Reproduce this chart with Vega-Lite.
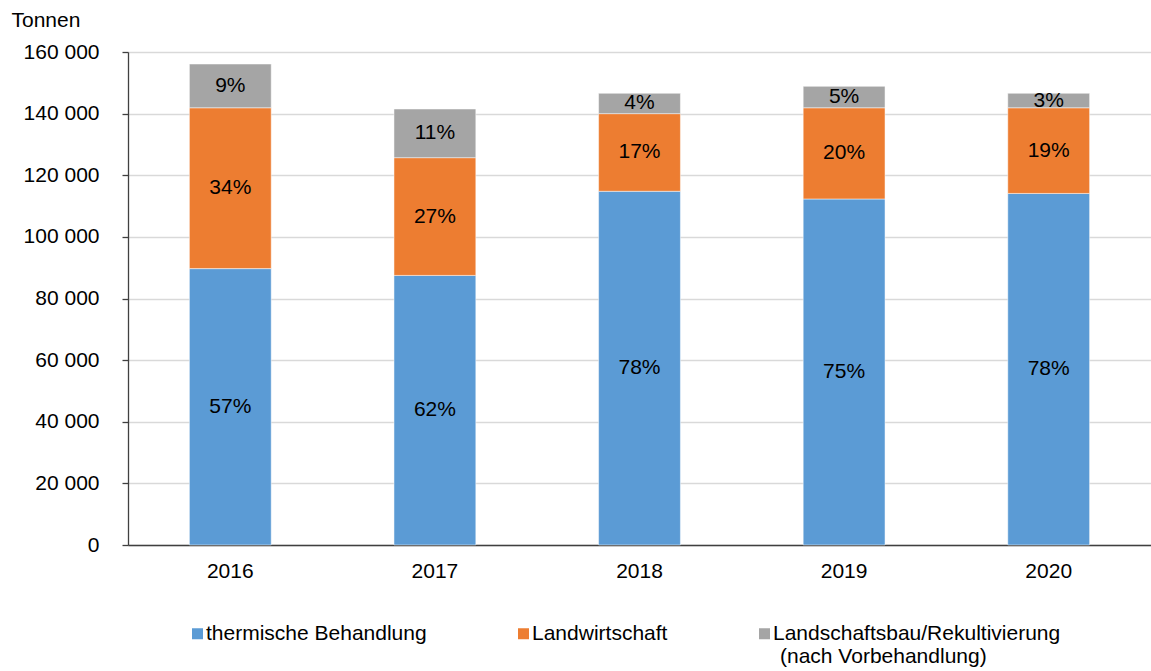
{
  "$schema": "https://vega.github.io/schema/vega-lite/v6.json",
  "width": 1023,
  "height": 493,
  "autosize": {"type": "none"},
  "padding": {"left": 128, "top": 52, "right": 0, "bottom": 126},
  "background": "white",
  "config": {
    "font": "Liberation Sans",
    "view": {"stroke": null},
    "axis": {"labelFont": "Liberation Sans", "labelFontSize": 21, "labelColor": "#000000", "titleFont": "Liberation Sans"},
    "legend": {"labelFont": "Liberation Sans"}
  },
  "data": {
    "values": [
      {"jahr": "2016", "kategorie": "thermische Behandlung", "ord": 1, "tonnen": 89700, "pct": "57%"},
      {"jahr": "2016", "kategorie": "Landwirtschaft", "ord": 2, "tonnen": 52200, "pct": "34%"},
      {"jahr": "2016", "kategorie": "Landschaftsbau/Rekultivierung (nach Vorbehandlung)", "ord": 3, "tonnen": 14200, "pct": "9%"},
      {"jahr": "2017", "kategorie": "thermische Behandlung", "ord": 1, "tonnen": 87500, "pct": "62%"},
      {"jahr": "2017", "kategorie": "Landwirtschaft", "ord": 2, "tonnen": 38200, "pct": "27%"},
      {"jahr": "2017", "kategorie": "Landschaftsbau/Rekultivierung (nach Vorbehandlung)", "ord": 3, "tonnen": 15800, "pct": "11%"},
      {"jahr": "2018", "kategorie": "thermische Behandlung", "ord": 1, "tonnen": 114800, "pct": "78%"},
      {"jahr": "2018", "kategorie": "Landwirtschaft", "ord": 2, "tonnen": 25200, "pct": "17%"},
      {"jahr": "2018", "kategorie": "Landschaftsbau/Rekultivierung (nach Vorbehandlung)", "ord": 3, "tonnen": 6600, "pct": "4%"},
      {"jahr": "2019", "kategorie": "thermische Behandlung", "ord": 1, "tonnen": 112300, "pct": "75%"},
      {"jahr": "2019", "kategorie": "Landwirtschaft", "ord": 2, "tonnen": 29600, "pct": "20%"},
      {"jahr": "2019", "kategorie": "Landschaftsbau/Rekultivierung (nach Vorbehandlung)", "ord": 3, "tonnen": 6950, "pct": "5%"},
      {"jahr": "2020", "kategorie": "thermische Behandlung", "ord": 1, "tonnen": 114100, "pct": "78%"},
      {"jahr": "2020", "kategorie": "Landwirtschaft", "ord": 2, "tonnen": 27800, "pct": "19%"},
      {"jahr": "2020", "kategorie": "Landschaftsbau/Rekultivierung (nach Vorbehandlung)", "ord": 3, "tonnen": 4700, "pct": "3%"}
    ]
  },
  "transform": [
    {"stack": "tonnen", "groupby": ["jahr"], "sort": [{"field": "ord"}], "as": ["y0", "y1"]},
    {"calculate": "(datum.y0 + datum.y1) / 2", "as": "ymid"}
  ],
  "encoding": {
    "x": {
      "field": "jahr",
      "type": "ordinal",
      "scale": {"paddingInner": 0.6, "paddingOuter": 0.3},
      "axis": {
        "title": null,
        "labelAngle": 0,
        "ticks": false,
        "domainColor": "#404040",
        "domainWidth": 1.5,
        "labelPadding": 15
      }
    }
  },
  "layer": [
    {
      "mark": {"type": "bar", "stroke": "#ffffff", "strokeWidth": 0.7, "strokeOpacity": 0.7},
      "encoding": {
        "y": {
          "field": "y0",
          "type": "quantitative",
          "scale": {"domain": [0, 160000], "nice": false},
          "axis": {
            "values": [0, 20000, 40000, 60000, 80000, 100000, 120000, 140000, 160000],
            "labelExpr": "replace(format(datum.value, ',d'), ',', ' ')",
            "domain": true,
            "domainColor": "#404040",
            "domainWidth": 1.3,
            "ticks": true,
            "tickColor": "#404040",
            "tickSize": 6,
            "tickWidth": 1.3,
            "labelPadding": 23,
            "grid": true,
            "gridColor": "#d9d9d9",
            "gridWidth": 1.3,
            "title": "Tonnen",
            "titleAngle": 0,
            "titleAlign": "left",
            "titleBaseline": "alphabetic",
            "titleX": -117,
            "titleY": -26,
            "titleFontSize": 21,
            "titleFontWeight": "normal",
            "titleColor": "#000000"
          }
        },
        "y2": {"field": "y1"},
        "color": {
          "field": "kategorie",
          "type": "nominal",
          "scale": {
            "domain": ["thermische Behandlung", "Landwirtschaft", "Landschaftsbau/Rekultivierung (nach Vorbehandlung)"],
            "range": ["#5B9BD5", "#ED7D31", "#A5A5A5"]
          },
          "legend": {
            "orient": "none",
            "legendX": 59,
            "legendY": 571,
            "direction": "horizontal",
            "title": null,
            "padding": 0,
            "symbolType": "square",
            "symbolSize": 121,
            "symbolStrokeWidth": 0,
            "labelFontSize": 21,
            "labelColor": "#000000",
            "labelOffset": -2,
            "columnPadding": 86,
            "labelLimit": 600,
            "labelExpr": "datum.label == 'Landschaftsbau/Rekultivierung (nach Vorbehandlung)' ? ['Landschaftsbau/Rekultivierung', '\u200b\u2004(nach Vorbehandlung)'] : [datum.label, '']"
          }
        },
        "order": {"field": "ord", "type": "quantitative"}
      }
    },
    {
      "mark": {"type": "text", "fontSize": 21, "color": "#000000", "baseline": "middle"},
      "encoding": {
        "y": {"field": "ymid", "type": "quantitative"},
        "text": {"field": "pct"}
      }
    }
  ]
}
